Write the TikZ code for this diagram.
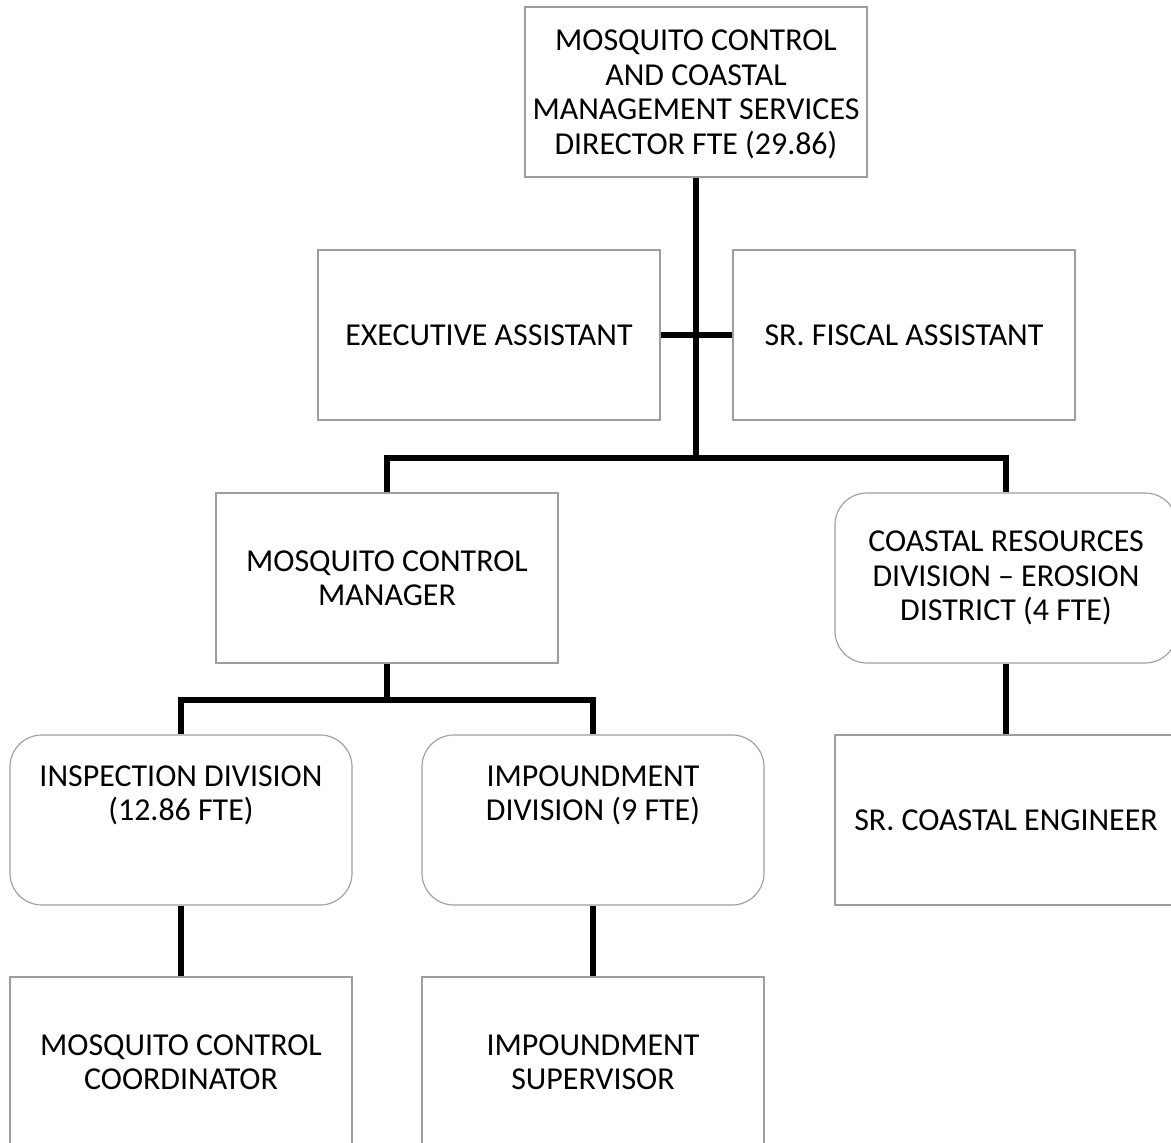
\documentclass[tikz,border=0pt]{standalone}
\usepackage{fontspec}
\setmainfont{Carlito}
\usepackage{xcolor}
\usepackage{tikz}
\colorlet{box edge}{black!38}
\colorlet{link}{black}
\tikzset{orgbox/.style={draw=box edge, line width=0.8pt, fill=white, align=center,
        minimum width=8.55cm, minimum height=4.25cm, inner sep=0pt,
        font=\fontsize{22.7pt}{24.5pt}\selectfont},
    roundbox/.style={orgbox, rounded corners=0.8cm},
    connector/.style={draw=link, line width=3.6pt}}

\begin{document}
\begin{tikzpicture}[x=0.025cm, y=-0.025cm]
    \useasboundingbox (0,0) rectangle (1171,1143);
    % top
    \node[orgbox, text depth=-0.3cm] (dir) at (696,92) {MOSQUITO CONTROL\\AND COASTAL\\MANAGEMENT SERVICES\\DIRECTOR FTE (29.86)};
    \node[orgbox] (exec) at (489,335) {EXECUTIVE ASSISTANT};
    \node[orgbox] (fisc) at (904,335) {SR. FISCAL ASSISTANT};
    % divisions
    \node[orgbox] (mgr) at (387,578) {MOSQUITO CONTROL\\MANAGER};
    \node[roundbox] (coast) at (1006,578) {COASTAL RESOURCES\\DIVISION – EROSION\\DISTRICT (4 FTE)};
    \node[roundbox, text depth=1.35cm] (insp) at (181,820) {INSPECTION DIVISION\\(12.86 FTE)};
    \node[roundbox, text depth=1.35cm] (impd) at (593,820) {IMPOUNDMENT\\DIVISION (9 FTE)};
    \node[orgbox] (eng) at (1006,820) {SR. COASTAL ENGINEER};
    % bottom row
    \node[orgbox] (coord) at (181,1062) {MOSQUITO CONTROL\\COORDINATOR};
    \node[orgbox] (supv) at (593,1062) {IMPOUNDMENT\\SUPERVISOR};
    \coordinate (bus) at (696,458);
    \coordinate (mbus) at (387,700);
    \draw[connector] (dir.south) -- (bus);
    \draw[connector] (exec.east) -- (fisc.west);
    \draw[connector] (mgr.north) |- (bus) -| (coast.north);
    \draw[connector] (mgr.south) -- (mbus);
    \draw[connector] (insp.north) |- (mbus) -| (impd.north);
    \draw[connector] (insp.south) -- (coord.north);
    \draw[connector] (impd.south) -- (supv.north);
    \draw[connector] (coast.south) -- (eng.north);
\end{tikzpicture}
\end{document}
